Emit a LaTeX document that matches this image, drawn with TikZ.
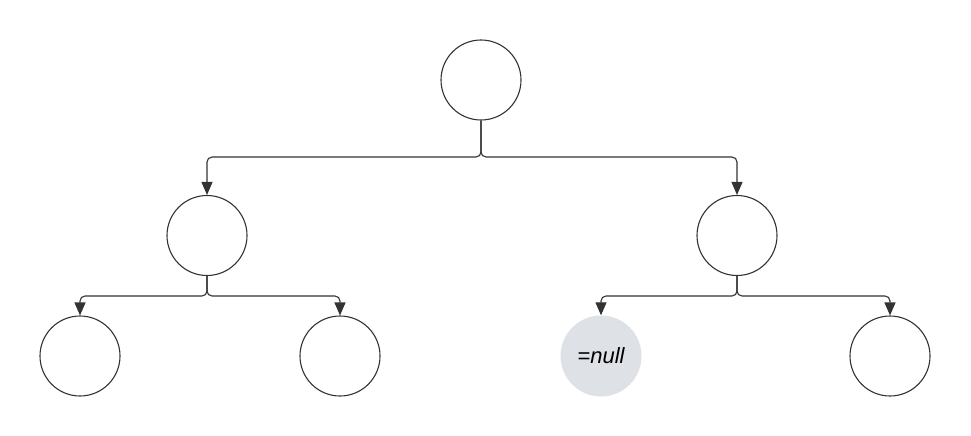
\documentclass[tikz,border=0pt]{standalone}
\usepackage{fontspec}
\setmainfont{Liberation Sans}
\usetikzlibrary{arrows.meta}
\definecolor{linec}{HTML}{333333}
\definecolor{nullc}{HTML}{DEE1E6}
\begin{document}
\begin{tikzpicture}[x=1pt,y=-1pt,
  treenode/.style={circle,draw=linec,line width=1.1pt,minimum size=80pt,inner sep=0pt},
  nullnode/.style={circle,fill=nullc,minimum size=81pt,inner sep=0pt,font=\fontsize{22}{26}\selectfont\itshape},
  conn/.style={draw=linec,line width=1.1pt,rounded corners=5pt,-{Triangle[width=11pt,length=13pt]}}]
\useasboundingbox (0,0) rectangle (971,436);
\node[treenode] (root) at (481,80) {};
\node[treenode] (l) at (207,235.5) {};
\node[treenode] (r) at (737,235.5) {};
\node[treenode] (ll) at (80,356) {};
\node[treenode] (lr) at (340,356) {};
\node[nullnode] (rl) at (601,356) {=null};
\node[treenode] (rr) at (890,356) {};
\draw[conn] (root.south) |- (344,157) -| (l.north);
\draw[conn] (root.south) |- (600,157) -| (r.north);
\draw[conn] (l.south) |- (140,296) -| (ll.north);
\draw[conn] (l.south) |- (280,296) -| (lr.north);
\draw[conn] (r.south) |- (670,296) -| (rl.north);
\draw[conn] (r.south) |- (810,296) -| (rr.north);
\end{tikzpicture}
\end{document}
